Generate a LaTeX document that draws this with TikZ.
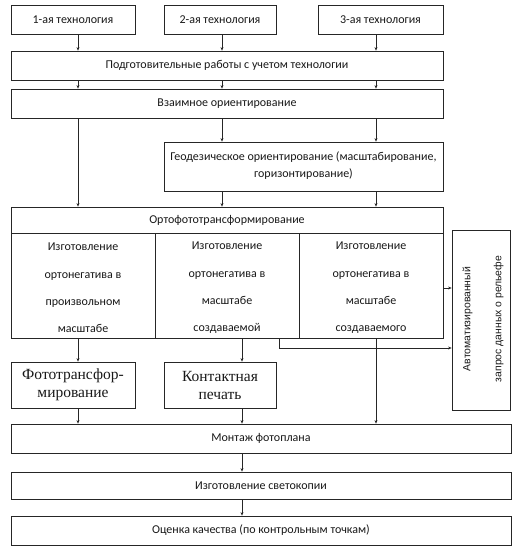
\documentclass[tikz,border=0pt]{standalone}
\usepackage{fontspec}
\setmainfont{Carlito}
\newfontfamily\serfont{Liberation Serif}
\newfontfamily\arfont{Liberation Sans}
\usetikzlibrary{arrows.meta}
\begin{document}
\begin{tikzpicture}[x=1pt,y=-1pt,
  box/.style={draw=black!85,line width=0.8pt,inner sep=0pt,font=\fontsize{12}{14}\selectfont,text=black!90},
  plain/.style={inner sep=0pt,align=center,text=black!90},
  arr/.style={draw=black!85,line width=0.7pt,-{Stealth[length=3.5pt,width=3pt]}},
  ln/.style={draw=black!85,line width=0.7pt}]
\useasboundingbox[fill=white] (0,0) rectangle (518,554);
\coordinate (c1) at (78,0);
\coordinate (c2) at (222,0);
\coordinate (c3) at (376,0);
\coordinate (c4) at (242,0);
\coordinate (c5) at (279,0);
% top boxes
\node[box,minimum width=124pt,minimum height=29pt] (t1) at (73,19.5) {1-ая технология};
\node[box,minimum width=112pt,minimum height=29pt] (t2) at (220,19.5) {2-ая технология};
\node[box,minimum width=125pt,minimum height=29pt] (t3) at (380.5,19.5) {3-ая технология};
\node[box,minimum width=432pt,minimum height=29pt] (prep) at (227,65.5) {Подготовительные работы с учетом технологии};
\node[box,minimum width=432pt,minimum height=29pt] (mut) at (227,103.5) {Взаимное ориентирование};
\node[box,minimum width=279pt,minimum height=49pt] (geo) at (303.5,166.5) {};
\node[plain,font=\fontsize{12}{17}\selectfont] (geot) at (303.5,166) {Геодезическое ориентирование (масштабирование,\\горизонтирование)};
% ortho
\node[box,minimum width=432pt,minimum height=26pt] (orth) at (227,220) {Ортофототрансформирование};
\node[box,minimum width=144pt,minimum height=105pt] (k1) at (83,285.5) {};
\node[box,minimum width=144pt,minimum height=105pt] (k2) at (227,285.5) {};
\node[box,minimum width=144pt,minimum height=105pt] (k3) at (371,285.5) {};
\node[plain,font=\fontsize{12}{27.4}\selectfont] (k1t) at (83,288) {Изготовление\\ортонегатива в\\произвольном\\масштабе};
\node[plain,font=\fontsize{12}{27.4}\selectfont] (k2t) at (227,288) {Изготовление\\ортонегатива в\\масштабе\\создаваемой};
\node[plain,font=\fontsize{12}{27.4}\selectfont] (k3t) at (371,288) {Изготовление\\ортонегатива в\\масштабе\\создаваемого};
% auto
\node[box,minimum width=58pt,minimum height=180pt] (auto) at (481,320) {};
\node[plain,rotate=90,font=\arfont\fontsize{10.4}{31}\selectfont] (autot) at (483,319) {Автоматизированный\\запрос данных о рельефе};
% serif boxes
\node[box,minimum width=124pt,minimum height=46pt,align=center,font=\serfont\fontsize{15.5}{18}\selectfont] (ph) at (73,385) {Фототрансфор-\\мирование};
\node[box,minimum width=112pt,minimum height=46pt,align=center,font=\serfont\fontsize{15.5}{18}\selectfont] (ct) at (220,385) {Контактная\\печать};
% bottom
\node[box,minimum width=500pt,minimum height=29pt] (mon) at (261,438.5) {Монтаж фотоплана};
\node[box,minimum width=500pt,minimum height=27pt] (sv) at (261,485.5) {Изготовление светокопии};
\node[box,minimum width=500pt,minimum height=29pt] (oc) at (261,530.5) {Оценка качества (по контрольным точкам)};
% arrows
\foreach \c/\a/\b in {c1/t1/prep,c2/t2/prep,c3/t3/prep,c1/prep/mut,c2/prep/mut,c3/prep/mut,c2/mut/geo,c3/mut/geo,c1/mut/orth,c2/geo/orth,c3/geo/orth,c1/k1/ph,c4/k2/ct,c3/k3/mon,c1/ph/mon,c4/ct/mon,c4/mon/sv,c4/sv/oc}
  \draw[arr] (\a.south -| \c) -- (\b.north -| \c);
\coordinate (r1) at (0,288);
\coordinate (r2) at (0,348);
\draw[arr] (k3.east |- r1) -- (auto.west |- r1);
\draw[arr] (k2.south -| c5) -- (c5 |- r2) -- (auto.west |- r2);
\end{tikzpicture}
\end{document}
